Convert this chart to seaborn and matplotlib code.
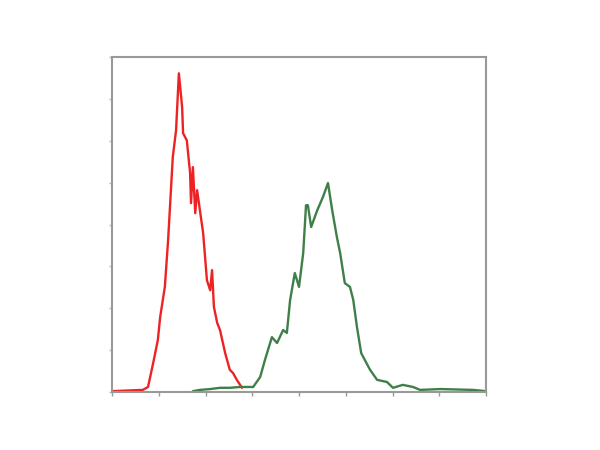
import numpy as np
import pandas as pd
import seaborn as sns
from matplotlib import pyplot as plt

# control (red) histogram
red_x = [0.00, 0.66, 0.77, 0.88, 0.98, 1.03, 1.13, 1.20, 1.24, 1.30, 1.37, 1.43, 1.50, 1.52,
         1.60, 1.67, 1.69, 1.73, 1.78, 1.82, 1.88, 1.95, 2.03, 2.10, 2.14, 2.18, 2.25, 2.31,
         2.42, 2.52, 2.59, 2.67, 2.74, 2.78]
red_y = [0.02, 0.05, 0.12, 0.69, 1.24, 1.79, 2.51, 3.63, 4.42, 5.61, 6.25, 7.61, 6.80, 6.18,
         6.01, 5.23, 4.51, 5.37, 4.27, 4.82, 4.34, 3.79, 2.67, 2.43, 2.91, 2.03, 1.65, 1.48,
         0.93, 0.53, 0.45, 0.29, 0.17, 0.10]

# stained (green) histogram
green_x = [1.73, 1.88, 2.10, 2.31, 2.52, 2.74, 3.02, 3.17, 3.27, 3.42, 3.53, 3.66, 3.74, 3.81,
           3.91, 4.00, 4.09, 4.15, 4.19, 4.26, 4.39, 4.51, 4.62, 4.71, 4.81, 4.88, 4.98, 5.09,
           5.16, 5.24, 5.33, 5.41, 5.52, 5.67, 5.88, 6.01, 6.22, 6.44, 6.59, 7.02, 7.72, 8.00]
green_y = [0.02, 0.05, 0.07, 0.10, 0.10, 0.12, 0.12, 0.36, 0.76, 1.31, 1.17, 1.48, 1.41, 2.20,
           2.84, 2.51, 3.32, 4.46, 4.46, 3.94, 4.34, 4.65, 4.99, 4.34, 3.70, 3.32, 2.60, 2.51,
           2.20, 1.55, 0.93, 0.76, 0.53, 0.29, 0.24, 0.10, 0.17, 0.12, 0.05, 0.07, 0.05, 0.02]

sns.set_style("white")
fig = plt.figure(figsize=(6, 4.5), dpi=100)
ax = fig.add_axes([0.1867, 0.1289, 0.6233, 0.7444])

sns.lineplot(x=red_x, y=red_y, ax=ax, color="#ee2222", linewidth=1.7, sort=False)
sns.lineplot(x=green_x, y=green_y, ax=ax, color="#3f7f48", linewidth=1.7, sort=False)

ax.set_xlim(0, 8)
ax.set_ylim(0, 8)
ax.set_xticks(np.arange(0, 9))
ax.set_yticks(np.arange(0, 9))
ax.set_xticklabels([])
ax.set_yticklabels([])
ax.tick_params(axis="x", bottom=True, direction="out", length=3, width=1, color="#999999")
ax.tick_params(axis="y", left=True, direction="out", length=2, width=1, color="#bbbbbb")
for s in ax.spines.values():
    s.set_color("#999999")
    s.set_linewidth(1.5)
ax.set_xlabel("")
ax.set_ylabel("")

fig.savefig("out.png", dpi=100)
